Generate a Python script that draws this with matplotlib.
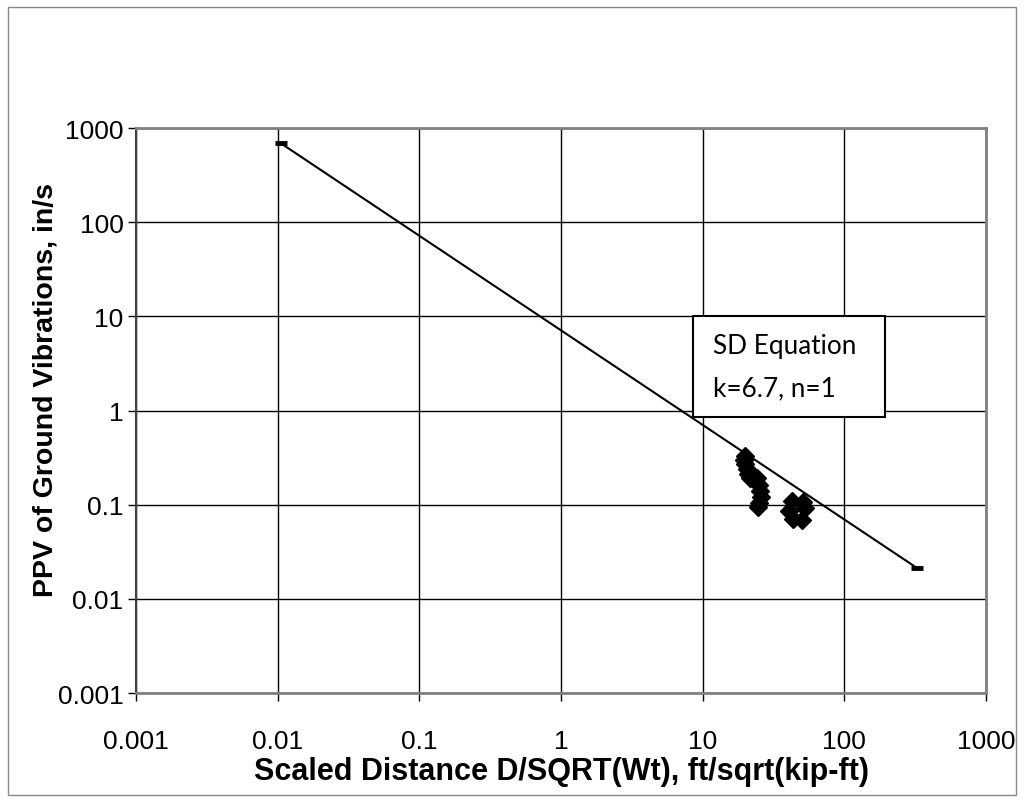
import matplotlib
matplotlib.use("Agg")
import matplotlib.pyplot as plt
from matplotlib.patches import Rectangle

# Measured data (scaled distance, PPV)
sd_cluster1 = [20.0, 19.6, 20.0, 20.5, 21.0, 21.5, 24.0, 25.0, 25.5, 26.0, 25.0, 24.5]
ppv_cluster1 = [0.33, 0.30, 0.27, 0.24, 0.21, 0.19, 0.19, 0.16, 0.14, 0.12, 0.105, 0.095]
sd_cluster2 = [41.0, 42.6, 43.5, 51.0, 52.5, 50.0]
ppv_cluster2 = [0.086, 0.11, 0.071, 0.107, 0.093, 0.068]
sd_data = sd_cluster1 + sd_cluster2
ppv_data = ppv_cluster1 + ppv_cluster2

# SD equation line end points (k=6.7, n=1)
sd_line = [0.0105, 325.0]
ppv_line = [690.0, 0.0213]

xticks = [0.001, 0.01, 0.1, 1, 10, 100, 1000]
xtick_labels = ["0.001", "0.01", "0.1", "1", "10", "100", "1000"]
yticks = [0.001, 0.01, 0.1, 1, 10, 100, 1000]
ytick_labels = ["0.001", "0.01", "0.1", "1", "10", "100", "1000"]

plt.rcParams['font.family'] = ['Liberation Sans', 'DejaVu Sans']

fig = plt.figure(figsize=(10.24, 8.04), dpi=100)
ax = fig.add_axes([136/1024, 110/804, 850/1024, 565/804])

ax.set_xscale('log')
ax.set_yscale('log')
ax.set_xlim(0.001, 1000)
ax.set_ylim(0.001, 1000)

ax.grid(True, which='major', color='black', linewidth=1.0)
ax.set_axisbelow(True)

ax.plot(sd_line, ppv_line, color='black', linewidth=1.5, marker='_',
        markersize=8, markeredgewidth=3.5, zorder=3)
ax.plot(sd_data, ppv_data, linestyle='none', marker='D', color='black',
        markersize=9.5, zorder=4)

ax.set_xticks(xticks)
ax.set_xticklabels(xtick_labels)
ax.set_yticks(yticks)
ax.set_yticklabels(ytick_labels)
ax.minorticks_off()
ax.tick_params(axis='both', which='major', direction='out', length=6,
               width=1, color='black', labelsize=19)
ax.tick_params(axis='x', pad=20)
ax.tick_params(axis='y', pad=3)

for side in ['top', 'right', 'bottom']:
    ax.spines[side].set_color('#808080')
    ax.spines[side].set_linewidth(2)
ax.spines['left'].set_color('#404040')
ax.spines['left'].set_linewidth(1.5)

ax.set_xlabel('Scaled Distance D/SQRT(Wt), ft/sqrt(kip-ft)', fontsize=22,
              fontweight='bold', labelpad=2)
ax.set_ylabel('PPV of Ground Vibrations, in/s', fontsize=20.5,
              fontweight='bold', va='center', ha='center')
ax.yaxis.set_label_coords(-0.107, 0.538)

# Annotation box
box = Rectangle((0.655, 0.4885), 0.226, 0.1785, transform=ax.transAxes,
                facecolor='white', edgecolor='black', linewidth=1.5, zorder=5)
ax.add_patch(box)
ax.text(0.679, 0.615, 'SD Equation', transform=ax.transAxes, fontsize=18.8,
        family=['Lato', 'DejaVu Sans'], va='center', ha='left', zorder=6)
ax.text(0.679, 0.540, 'k=6.7, n=1', transform=ax.transAxes, fontsize=18.8,
        family=['Lato', 'DejaVu Sans'], va='center', ha='left', zorder=6)

# Outer chart border
fig.patches.append(Rectangle((8/1024, 8/804), 1008/1024, 788/804,
                             transform=fig.transFigure, fill=False,
                             edgecolor='#888888', linewidth=1))

fig.savefig('out.png', dpi=100)
